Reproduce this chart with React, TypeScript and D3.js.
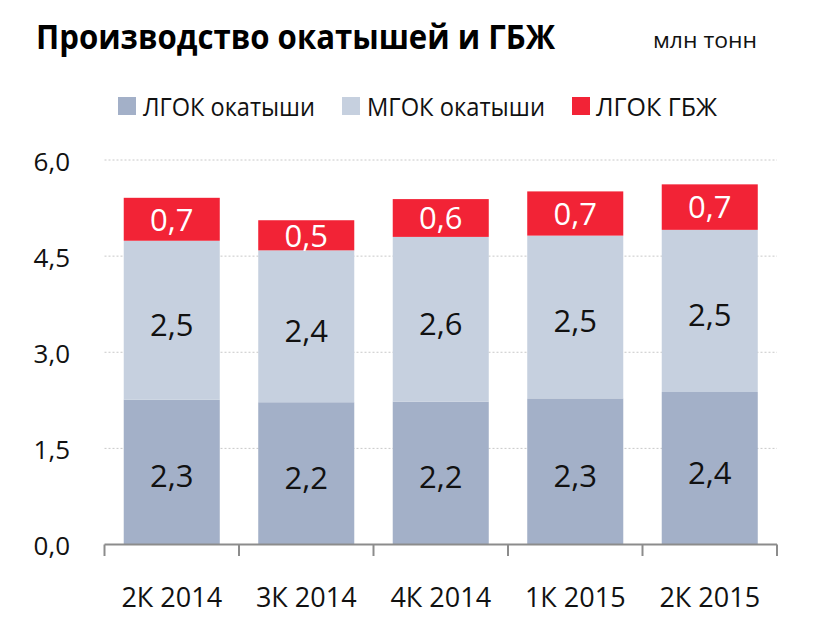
import * as d3 from 'd3';

const quarters = ['2К 2014', '3К 2014', '4К 2014', '1К 2015', '2К 2015'];
const lgokPellets = [2.26, 2.22, 2.23, 2.28, 2.38];
const mgokPellets = [2.48, 2.37, 2.57, 2.54, 2.53];
const lgokHbi = [0.67, 0.47, 0.59, 0.69, 0.71];
const yTicks = [0, 1.5, 3, 4.5, 6];

const seriesKeys = ['lgok', 'mgok', 'hbi'] as const;
const seriesNames = ['ЛГОК окатыши', 'МГОК окатыши', 'ЛГОК ГБЖ'];
const colors = ['#a3b0c8', '#c6d0df', '#f22336'];
const labelColors = ['#111', '#111', '#fff'];

const W = 837;
const H = 639;
const fmt = (v: number) => v.toFixed(1).replace('.', ',');

export default function App() {
  const rows = quarters.map((q, i) => ({
    q,
    lgok: lgokPellets[i],
    mgok: mgokPellets[i],
    hbi: lgokHbi[i],
  }));

  const x = d3.scaleBand<string>()
    .domain(quarters)
    .range([104.5, 777])
    .paddingInner(0.286)
    .paddingOuter(0.143);

  const y = d3.scaleLinear().domain([0, 6]).range([544.5, 160]);

  const stacked = d3.stack<any>().keys(seriesKeys as unknown as string[])(rows);

  const axisLeft = x.range()[0];
  const axisRight = x.range()[1];
  const step = x.step();

  // legend layout
  const legend = [
    { sq: 118, tx: 143, w: 172 },
    { sq: 342, tx: 367, w: 178 },
    { sq: 572, tx: 596, w: 121 },
  ];

  return (
    <svg width={W} height={H} style={{ position: 'absolute', left: 0, top: 0, background: '#fff' }}
      fontFamily="'Open Sans', 'Noto Sans', sans-serif">
      {/* Title */}
      <text x={36} y={49} fontSize={34} fontWeight="bold" fill="#000"
        textLength={519} lengthAdjust="spacingAndGlyphs">
        Производство окатышей и ГБЖ
      </text>
      <text x={653} y={48} fontSize={22} fill="#111" textLength={104} lengthAdjust="spacingAndGlyphs">
        млн тонн
      </text>

      {/* Legend */}
      {seriesNames.map((name, i) => (
        <g key={name}>
          <rect x={legend[i].sq} y={97} width={18} height={18} fill={colors[i]} />
          <text x={legend[i].tx} y={116} fontSize={25} fill="#111"
            textLength={legend[i].w} lengthAdjust="spacingAndGlyphs">
            {name}
          </text>
        </g>
      ))}

      {/* Grid */}
      {yTicks.filter((t) => t > 0).map((t) => (
        <line key={t} x1={axisLeft} x2={axisRight} y1={y(t)} y2={y(t)}
          stroke="#c8c8c8" strokeWidth={1} strokeDasharray="2,2" />
      ))}

      {/* Y labels */}
      {yTicks.map((t) => (
        <text key={t} x={70} y={y(t) + 4} fontSize={26} fill="#111" textAnchor="end"
          dominantBaseline="middle">
          {fmt(t)}
        </text>
      ))}

      {/* Bars */}
      {stacked.map((layer, li) => (
        <g key={layer.key}>
          {layer.map((d, i) => (
            <g key={i}>
              <rect x={x(quarters[i])} y={y(d[1])} width={x.bandwidth()}
                height={y(d[0]) - y(d[1])} fill={colors[li]} />
              <text x={(x(quarters[i]) ?? 0) + x.bandwidth() / 2}
                y={(y(d[0]) + y(d[1])) / 2 + (li === 2 ? 3 : 7)}
                fontSize={31} fill={labelColors[li]} textAnchor="middle" dominantBaseline="middle">
                {fmt(d[1] - d[0])}
              </text>
            </g>
          ))}
        </g>
      ))}

      {/* X axis */}
      <line x1={axisLeft} x2={axisRight} y1={544.5} y2={544.5} stroke="#8c8c8c" strokeWidth={2} />
      {d3.range(quarters.length + 1).map((i) => (
        <line key={i} x1={axisLeft + i * step} x2={axisLeft + i * step} y1={544.5} y2={556}
          stroke="#8c8c8c" strokeWidth={2} />
      ))}
      {quarters.map((q) => (
        <text key={q} x={(x(q) ?? 0) + x.bandwidth() / 2} y={607} fontSize={27} fill="#111"
          textAnchor="middle">
          {q}
        </text>
      ))}
    </svg>
  );
}
